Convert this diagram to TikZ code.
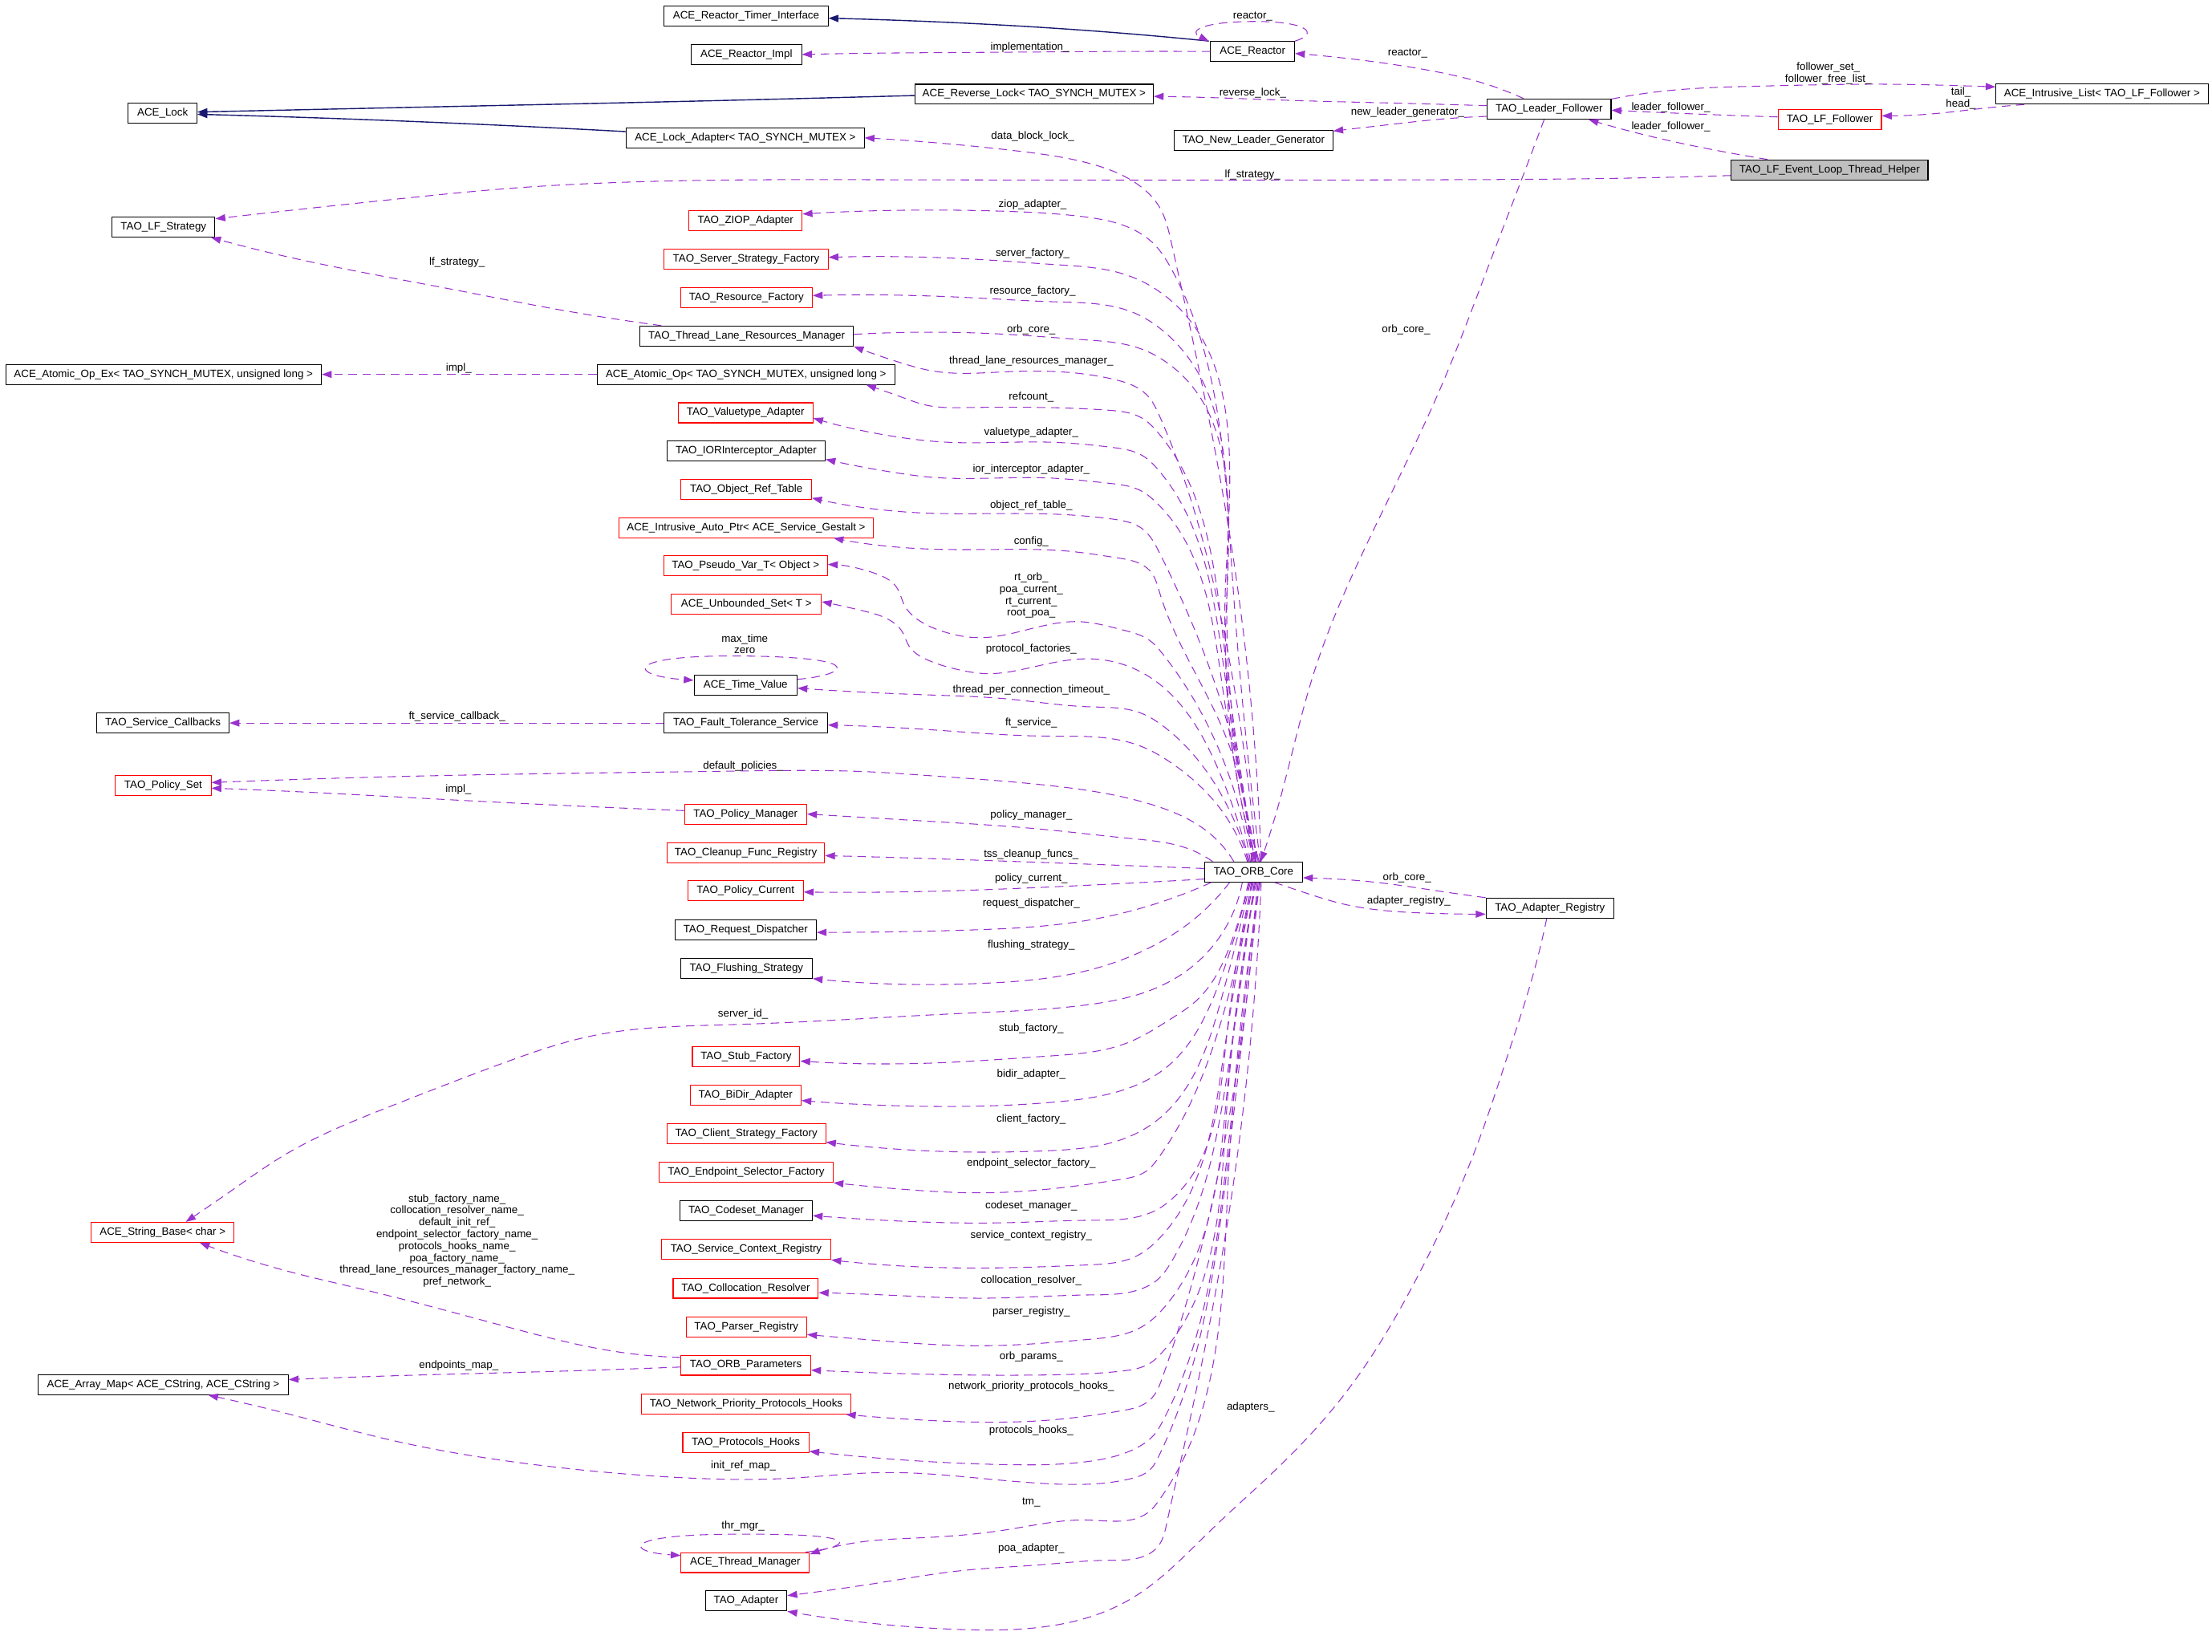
\documentclass[tikz,border=0pt]{standalone}
\usepackage{fontspec}
\setmainfont{Liberation Sans}
\usetikzlibrary{arrows.meta,hobby}
\definecolor{edgepurple}{RGB}{154,50,205}
\definecolor{inhblue}{RGB}{25,25,112}
\definecolor{helpergray}{RGB}{191,191,191}
\newcommand{\lblfont}{\fontsize{7.6}{8.4}\selectfont}
\begin{document}
\begin{tikzpicture}[x=1pt,y=-1pt,
  cls/.style={draw=black, line width=0.6pt, minimum height=14.2pt, inner sep=0pt, font=\lblfont, fill=white},
  rcls/.style={cls, draw=red},
  lbl/.style={font=\lblfont, inner sep=0pt, align=center},
  rel/.style={draw=edgepurple, line width=0.6pt, dash pattern=on 6pt off 4pt, -{Triangle[length=7pt,width=5pt]}, line join=round},
  inh/.style={draw=inhblue, line width=0.8pt, -{Triangle[length=7pt,width=5pt]}}
]
\fill[white] (0,0) rectangle (1568,1171);
\useasboundingbox (0,0) rectangle (1568,1171);

% ---------------- nodes ----------------
\node[cls, minimum width=116.1pt] (rti) at (528.9,11.3) {ACE\_Reactor\_Timer\_Interface};
\node[cls, minimum width=78.2pt] (impl) at (529.1,38.6) {ACE\_Reactor\_Impl};
\node[cls, minimum width=59.5pt] (ar) at (887.9,36.5) {ACE\_Reactor};
\node[cls, minimum width=48.7pt] (lock) at (115.3,80.4) {ACE\_Lock};
\node[cls, minimum width=169pt] (rl) at (733,66.8) {ACE\_Reverse\_Lock< TAO\_SYNCH\_MUTEX >};
\node[cls, minimum width=87.8pt] (lf) at (1098.1,77.3) {TAO\_Leader\_Follower};
\node[cls, minimum width=150.3pt] (il) at (1490,66.7) {ACE\_Intrusive\_List< TAO\_LF\_Follower >};
\node[rcls, minimum width=73.3pt] (lff) at (1297,84.9) {TAO\_LF\_Follower};
\node[cls, minimum width=112.4pt] (nlg) at (888.6,99.5) {TAO\_New\_Leader\_Generator};
\node[cls, minimum width=168.5pt] (lockad) at (528.3,97.7) {ACE\_Lock\_Adapter< TAO\_SYNCH\_MUTEX >};
\node[cls, fill=helpergray, minimum width=139.5pt] (helper) at (1296.9,120.4) {TAO\_LF\_Event\_Loop\_Thread\_Helper};
\node[cls, minimum width=73pt] (lfs) at (115.9,160.9) {TAO\_LF\_Strategy};
\node[rcls, minimum width=80.2pt] (ziop) at (528.5,156.3) {TAO\_ZIOP\_Adapter};
\node[rcls, minimum width=116.1pt] (ssf) at (528.9,183.6) {TAO\_Server\_Strategy\_Factory};
\node[rcls, minimum width=93.4pt] (rf) at (529.1,210.9) {TAO\_Resource\_Factory};
\node[cls, minimum width=151.2pt] (tlrm) at (529.3,238.2) {TAO\_Thread\_Lane\_Resources\_Manager};
\node[cls, minimum width=223.8pt] (atomicex) at (115.9,265.4) {ACE\_Atomic\_Op\_Ex< TAO\_SYNCH\_MUTEX, unsigned long >};
\node[cls, minimum width=211pt] (atomic) at (528.8,265.4) {ACE\_Atomic\_Op< TAO\_SYNCH\_MUTEX, unsigned long >};
\node[rcls, minimum width=95.3pt] (vta) at (528.5,292.6) {TAO\_Valuetype\_Adapter};
\node[cls, minimum width=112.1pt] (ior) at (528.9,319.7) {TAO\_IORInterceptor\_Adapter};
\node[rcls, minimum width=92.5pt] (ort) at (529,346.9) {TAO\_Object\_Ref\_Table};
\node[rcls, minimum width=180.7pt] (ap) at (528.9,374) {ACE\_Intrusive\_Auto\_Ptr< ACE\_Service\_Gestalt >};
\node[rcls, minimum width=116.1pt] (pvt) at (528.5,401.2) {TAO\_Pseudo\_Var\_T< Object >};
\node[rcls, minimum width=106.2pt] (us) at (529.1,428.3) {ACE\_Unbounded\_Set< T >};
\node[cls, minimum width=73pt] (tv) at (528.5,485.5) {ACE\_Time\_Value};
\node[cls, minimum width=93.8pt] (sc) at (115.5,512.5) {TAO\_Service\_Callbacks};
\node[cls, minimum width=115.7pt] (fts) at (528.7,512.5) {TAO\_Fault\_Tolerance\_Service};
\node[rcls, minimum width=67.8pt] (ps) at (115.7,556.7) {TAO\_Policy\_Set};
\node[rcls, minimum width=86.6pt] (pm) at (528.5,577) {TAO\_Policy\_Manager};
\node[rcls, minimum width=111.7pt] (cfr) at (528.7,604.4) {TAO\_Cleanup\_Func\_Registry};
\node[rcls, minimum width=81.8pt] (pc) at (528.5,631.5) {TAO\_Policy\_Current};
\node[cls, minimum width=100.2pt] (rd) at (528.5,659) {TAO\_Request\_Dispatcher};
\node[cls, minimum width=93.4pt] (fs) at (529.1,686.3) {TAO\_Flushing\_Strategy};
\node[rcls, minimum width=76.2pt] (stub) at (528.9,749) {TAO\_Stub\_Factory};
\node[rcls, minimum width=78.6pt] (bidir) at (528.5,776.4) {TAO\_BiDir\_Adapter};
\node[rcls, minimum width=112.5pt] (csf) at (529,803.8) {TAO\_Client\_Strategy\_Factory};
\node[rcls, minimum width=123.3pt] (esf) at (528.9,831) {TAO\_Endpoint\_Selector\_Factory};
\node[cls, minimum width=93.8pt] (cm) at (528.9,858.4) {TAO\_Codeset\_Manager};
\node[rcls, minimum width=120.1pt] (scr) at (528.9,885.7) {TAO\_Service\_Context\_Registry};
\node[rcls, minimum width=102.9pt] (cr) at (528.6,913.1) {TAO\_Collocation\_Resolver};
\node[rcls, minimum width=85.4pt] (pr) at (529.1,940.5) {TAO\_Parser\_Registry};
\node[rcls, minimum width=91.8pt] (op) at (528.7,967.7) {TAO\_ORB\_Parameters};
\node[rcls, minimum width=148.8pt] (np) at (528.9,995.2) {TAO\_Network\_Priority\_Protocols\_Hooks};
\node[rcls, minimum width=89.4pt] (ph) at (528.7,1022.5) {TAO\_Protocols\_Hooks};
\node[rcls, minimum width=91pt] (tm) at (528.3,1107.6) {ACE\_Thread\_Manager};
\node[cls, minimum width=57.8pt] (adapter) at (528.9,1134.8) {TAO\_Adapter};
\node[rcls, minimum width=101.4pt] (sb) at (115.3,873.5) {ACE\_String\_Base< char >};
\node[cls, minimum width=177.2pt] (am) at (115.7,981.5) {ACE\_Array\_Map< ACE\_CString, ACE\_CString >};
\node[cls, minimum width=69.4pt] (orb) at (888.6,618.1) {TAO\_ORB\_Core};
\node[cls, minimum width=90.6pt] (areg) at (1098.7,643.7) {TAO\_Adapter\_Registry};

% ---------------- inheritance ----------------
\draw[inh] ([xshift=-1pt]ar.north west) to[curve through={(786.3,22.8) (677.5,16.1)}] ([yshift=-1.6pt]rti.east);
\draw[inh] ([yshift=-0.9pt]rl.west) to[curve through={(478.8,72) (319,75.5)}] ([yshift=1pt]lock.east);
\draw[inh] ([yshift=4.4pt]lockad.west) to[curve through={(319,87.2)}] ([yshift=-0.6pt]lock.east);

% ---------------- top group relations ----------------
\draw[rel] (ar.west) to[curve through={(822.6,36.4) (713.8,37) (605,37.9)}] (impl.east);
\draw[rel] (ar.north east) .. controls (935,24) and (928,15) .. (888,15.2) .. controls (852,15.5) and (842,22) .. ([xshift=-1pt]ar.north west);
\draw[rel] ([xshift=-18pt]lf.north) to[curve through={(1051,58.8) (1004,48.3) (949.5,40.8)}] ([yshift=-1.4pt]ar.east);
\draw[rel] ([yshift=2.4pt]lf.west) to[curve through={(985.8,73) (913.3,71.1) (859,69.2)}] ([yshift=-1.5pt]rl.east);
\draw[rel] ([yshift=-5.2pt]lf.west) to[curve through={(1022,84.4) (985.8,88.2)}] ([yshift=6.6pt]nlg.east);
\draw[rel] ([yshift=7.1pt]lf.east) to[curve through={(1179.9,64.5) (1249.3,61) (1336,59.7) (1388.2,60.7)}] ([yshift=5.1pt]il.west);
\draw[rel] ([xshift=-55pt]il.south) to[curve through={(1405.5,76.8) (1370.8,80.6)}] ([yshift=2.8pt]lff.east);
\draw[rel] ([yshift=2pt]lff.west) to[curve through={(1197.3,80.6)}] ([yshift=-0.8pt]lf.east);
\draw[rel] ([xshift=-44pt]helper.north) to[curve through={(1214.6,106.2) (1162.5,94.8)}] ([xshift=28pt]lf.south);
\draw[rel] ([yshift=-4pt]helper.west) to[curve through={(1162.5,126.1) (1023.7,127.4) (625.6,127.4) (438.9,129.3) (359,133.7) (279.3,141.3) (199.5,149.8)}] ([yshift=5.8pt]lfs.east);
\draw[rel] ([xshift=-60.5pt]tlrm.north) to[curve through={(399,220) (319,204.8) (239.4,189.6) (179.6,176.3)}] ([xshift=33.7pt]lfs.south);
\draw[rel] ([xshift=-3.5pt]lf.south) to[curve through={(1076.5,132.7) (1054.7,189.6) (1022,273) (975,372.8) (931.5,476.5) (906,571.5)}] ([xshift=5pt]orb.north);
\draw[rel] (atomic.west) -- (atomicex.east);
\draw[rel] (fts.west) -- (sc.east);
\draw[rel] ([yshift=2.4pt]pm.west) to[curve through={(319,566.9) (179.6,559.8)}] ([yshift=-2pt]ps.east);
\draw[rel] ([yshift=5.5pt]op.west) to[curve through={(438.9,958.4) (359,940.4) (259.4,914.5) (199.5,899.9)}] ([xshift=26.3pt]sb.south);
\draw[rel] ([yshift=-1.3pt]op.west) to[curve through={(399,971.9) (279.3,975.2)}] ([yshift=3.6pt]am.east);

% self loops
\draw[rel] ([yshift=4pt]tv.east) .. controls (598,479) and (620,466) .. (527,465) .. controls (440,464) and (445,479) .. ([yshift=3.3pt]tv.west);
\draw[rel] ([xshift=-3pt]tm.north east) .. controls (600,1097) and (620,1087) .. (527,1087.5) .. controls (440,1087) and (442,1100) .. ([yshift=5pt]tm.west);

% ---------------- ORB core upward ----------------
\draw[rel] ([xshift=5.4pt]orb.north) to[curve through={(873.5,390.8) (830,170.6) (822.6,148) (804,129) (771.8,115.7) (721,107) (677,102.4)}] (lockad.east);
\draw[rel] ([xshift=4.7pt]orb.north) to[curve through={(873,400.5) (830,190) (819,174) (804,163) (768,153.6) (713.8,149.8)}] ([yshift=4.6pt]ziop.east);
\draw[rel] ([xshift=4pt]orb.north) to[curve through={(869,407.9) (819,204.8) (793.6,193.4) (750,187.7) (695.6,184)}] ([yshift=1.2pt]ssf.east);
\draw[rel] ([xshift=3.3pt]orb.north) to[curve through={(869.7,422) (822.6,233) (804,221.8) (750,214) (677.5,210.5)}] ([yshift=1.4pt]rf.east);
\draw[rel] ([yshift=1.2pt]tlrm.east) to[curve through={(713.8,237) (768,240.8) (808,247) (822.6,254) (869.2,432.5)}] ([xshift=2pt]orb.north);
\draw[rel] ([xshift=1.9pt]orb.north) to[curve through={(868.6,453) (822,295) (813,280) (790,269) (713.8,263.5) (659,262.6) (641,257.9)}] (tlrm.south east);
\draw[rel] ([xshift=1.2pt]orb.north) to[curve through={(867.8,458.9) (821,306.8) (809.6,296.4) (786,290.8) (742.8,288.9) (684.8,288.9) (655.8,287) (641.3,282.3)}] ([xshift=-20.6pt]atomic.south east);
\draw[rel] ([xshift=0.5pt]orb.north) to[curve through={(867.3,472) (821,333) (809.6,322.8) (789,317.2) (742.8,313.4) (670,313.4) (641.3,310.5)}] ([yshift=-3.8pt]vta.east);
\draw[rel] ([xshift=-0.2pt]orb.north) to[curve through={(866,483) (818.3,354.9) (809.6,348.3) (786.4,342.6) (742.8,338.8) (655.8,337.9) (641,336)}] ([yshift=-5.9pt]ior.east);
\draw[rel] ([xshift=-0.9pt]orb.north) to[curve through={(866.7,501.5) (822,392) (809.6,374.7) (789,368) (742.8,364.3) (650,363.4)}] ([yshift=-6.1pt]ort.east);
\draw[rel] ([xshift=-1.6pt]orb.north) to[curve through={(866.2,515.5) (822,420) (815.4,404.9) (792,395.4) (757.3,390.7) (713.8,389.4) (650,388.8)}] ([xshift=-28.7pt]ap.south east);
\draw[rel] ([xshift=-2.3pt]orb.north) to[curve through={(866.4,537) (824,463.3) (815,454) (795,446.3) (766,440.7) (728.3,446.3) (693.5,452) (670.3,448.2) (650,438.8) (641.3,429.4) (635.5,416.2) (621,406.7)}] ([yshift=1.1pt]pvt.east);
\draw[rel] ([xshift=-3pt]orb.north) to[curve through={(864.1,546.6) (818.3,482.2) (800.9,472.7) (771.8,467) (728.3,473.7) (699.3,477.5) (679,474.6) (655.8,467) (644.2,457.7) (639.8,448.2) (632.5,440.7) (612.2,433.1)}] ([yshift=1.8pt]us.east);
\draw[rel] ([xshift=-3.7pt]orb.north) to[curve through={(865.4,562.7) (824,514.3) (809.6,505.8) (771.8,501) (713.8,495.4) (655.8,492.5)}] ([yshift=-2.3pt]tv.east);
\draw[rel] ([xshift=-4.4pt]orb.north) to[curve through={(866.9,575.8) (830,540.6) (809.6,529.3) (742.8,521.8) (655.8,517)}] ([yshift=-1.4pt]fts.east);

% near ORB, left side
\draw[rel] ([xshift=-14pt]orb.north) to[curve through={(859,592) (815.4,570) (742.8,556.7) (655.8,549.6) (618.5,547.2) (518.7,546.6) (319,549.6)}] ([yshift=2pt]ps.east);
\draw[rel] ([xshift=6pt]orb.north west) to[curve through={(844.4,602.4) (800.9,594.3) (742.8,588.2) (655.8,582)}] (pm.east);
\draw[rel] ([yshift=2.5pt]orb.west) to[curve through={(742.8,611.5) (655.8,608.5)}] ([yshift=-2.1pt]cfr.east);
\draw[rel] ([yshift=-5pt]orb.west) to[curve through={(742.8,628.8) (655.8,631.9)}] ([yshift=-0.8pt]pc.east);
\draw[rel] ([xshift=5pt]orb.south west) to[curve through={(830,637) (771.8,652.2) (684.8,659.3)}] ([yshift=-1.9pt]rd.east);
\draw[rel] ([xshift=-17pt]orb.south) to[curve through={(844.4,653.2) (815.4,671.5) (771.8,687.7) (699.3,696.9) (655.8,697.9)}] (fs.south east);
\draw[rel] ([xshift=-8pt]orb.south) to[curve through={(844.4,685.7) (815.4,702) (771.8,712.1) (684.8,718.2) (568.7,724.3) (518.7,726.3) (419,734.4) (359,752.7) (279.3,783.2) (199.5,820) (167.6,841.5)}] ([xshift=16.4pt]sb.north);

% ---------------- ORB core downward ----------------
\draw[rel] ([xshift=-3.7pt]orb.south) to[curve through={(872.9,667.6) (847.3,710) (830,722.2) (800.9,738.5) (742.8,748.6) (655.8,753.7)}] ([yshift=-3.1pt]stub.east);
\draw[rel] ([xshift=-3pt]orb.south) to[curve through={(865.9,692) (824,758.8) (800.9,771) (748.6,781.1) (655.8,784.2)}] ([yshift=-3.7pt]bidir.east);
\draw[rel] ([xshift=-2.3pt]orb.south) to[curve through={(865.5,709) (821.2,793.3) (800.9,805.5) (742.8,815.7) (655.8,815.7)}] ([yshift=-5.8pt]csf.east);
\draw[rel] ([xshift=-1.6pt]orb.south) to[curve through={(865.9,723) (821,821) (812.5,830.2) (795,835.9) (742,843) (699,845.5) (640,843)}] (esf.south east);
\draw[rel] ([xshift=-0.9pt]orb.south) to[curve through={(869.2,737.8) (830,850.5) (821,857) (809.6,861.7) (771.8,865) (713.8,866.7) (626.7,865)}] ([yshift=-3.3pt]cm.east);
\draw[rel] ([xshift=-0.2pt]orb.south) to[curve through={(866.8,751.8) (821,878.6) (806.7,889.8) (771.8,896.6) (699.3,898.8) (626.7,896.6)}] (scr.south east);
\draw[rel] ([xshift=0.5pt]orb.south) to[curve through={(870.2,760) (830,895) (821,906.7) (809.6,913.4) (771.8,917.9) (699.3,920.2) (626.7,917.9)}] ([yshift=-3.2pt]cr.east);
\draw[rel] ([xshift=1.2pt]orb.south) to[curve through={(869.7,774.9) (827,924.7) (821,931.4) (809.6,940.4) (771.8,949.4) (699.3,953.9) (612.2,949.4)}] ([yshift=-5.5pt]pr.east);
\draw[rel] ([xshift=1.9pt]orb.south) to[curve through={(869.2,791.7) (824,958.4) (815.4,966.2) (795,971.9) (742.8,974.6) (655.8,974.1)}] ([yshift=-3.5pt]op.east);
\draw[rel] ([xshift=2.6pt]orb.south) to[curve through={(869.7,800.7) (824,976.4) (815.4,992.1) (795,1000) (742.8,1006.7) (655.8,1006.7)}] ([xshift=-4pt]np.south east);
\draw[rel] ([xshift=3.3pt]orb.south) to[curve through={(870.2,816.4) (824,1007.8) (818.3,1016.8) (806.7,1025.8) (771.8,1035.9) (713.8,1038.2) (655.8,1035.9)}] ([yshift=-6.2pt]ph.east);
\draw[rel] ([xshift=4pt]orb.south) to[curve through={(869.8,828.8) (821.2,1032.6) (815.4,1041.6) (800.9,1048.3) (742.8,1051.7) (699.3,1048.3) (626.7,1043.8) (558.6,1047.9) (478.8,1047.2) (379,1038.2) (279.3,1021.3) (199.5,1001)}] ([xshift=31.9pt]am.south);
\draw[rel] ([xshift=4.7pt]orb.south) to[curve through={(870.2,844.5) (821.2,1064) (815.4,1070.8) (771.8,1077.5) (713.8,1084.3) (655.8,1089.9) (603.5,1094)}] ([yshift=-1.5pt]tm.north east);
\draw[rel] ([xshift=5.4pt]orb.south) to[curve through={(871.6,857) (836,1040) (827,1080) (821,1096) (810,1103.5) (785,1106) (740,1109) (680,1113.5) (626.7,1121.4)}] ([yshift=3.8pt]adapter.east);

% ---------------- adapter registry ----------------
\draw[rel] (areg.north west) to[curve through={(1017.7,631.3) (977,625.6) (939,622.7)}] ([yshift=-4.1pt]orb.east);
\draw[rel] ([xshift=14.8pt]orb.south) to[curve through={(926.3,633.2) (951.7,640.7) (982,645.5) (1015,647.4)}] ([yshift=-4.3pt]areg.west);
\draw[rel] ([xshift=-2.3pt]areg.south) to[curve through={(1083.7,701.4) (1072,738) (1048.5,807.8) (1006.5,901.7) (952,989.7) (902,1044) (859,1084) (801,1133.7) (679,1155) (612,1150)}] (adapter.south east);

% ---------------- labels ----------------
\node[lbl] (l01) at (888,11.4) {reactor\_};
\node[lbl] (l02) at (730,33.4) {implementation\_};
\node[lbl] (l03) at (997.8,37.9) {reactor\_};
\node[lbl] (l04) at (888,65.8) {reverse\_lock\_};
\node[lbl] (l05) at (997.8,79.6) {new\_leader\_generator\_};
\node[lbl] (l06) at (1296,52.2) {follower\_set\_\\follower\_free\_list\_};
\node[lbl] (l07) at (1390,69.5) {tail\_\\head\_};
\node[lbl] (l08) at (1184.4,76.2) {leader\_follower\_};
\node[lbl] (l09) at (1184.4,89.7) {leader\_follower\_};
\node[lbl] (l10) at (887.9,124.2) {lf\_strategy\_};
\node[lbl] (l11) at (324,185.8) {lf\_strategy\_};
\node[lbl] (l12) at (732,96.7) {data\_block\_lock\_};
\node[lbl] (l13) at (732,145) {ziop\_adapter\_};
\node[lbl] (l14) at (732,179.7) {server\_factory\_};
\node[lbl] (l15) at (732,206.7) {resource\_factory\_};
\node[lbl] (l16) at (731,233.8) {orb\_core\_};
\node[lbl] (l17) at (996.7,233.8) {orb\_core\_};
\node[lbl] (l18) at (731,256) {thread\_lane\_resources\_manager\_};
\node[lbl] (l19) at (325.2,261) {impl\_};
\node[lbl] (l20) at (731,281.3) {refcount\_};
\node[lbl] (l21) at (731,306.8) {valuetype\_adapter\_};
\node[lbl] (l22) at (731,332.6) {ior\_interceptor\_adapter\_};
\node[lbl] (l23) at (731,358.1) {object\_ref\_table\_};
\node[lbl] (l24) at (731,383.7) {config\_};
\node[lbl] (l25) at (731,422.2) {rt\_orb\_\\poa\_current\_\\rt\_current\_\\root\_poa\_};
\node[lbl] (l26) at (731,460) {protocol\_factories\_};
\node[lbl] (l27) at (527.9,456.5) {max\_time\\zero};
\node[lbl] (l28) at (731,489.4) {thread\_per\_connection\_timeout\_};
\node[lbl] (l29) at (324,508) {ft\_service\_callback\_};
\node[lbl] (l30) at (731,512.4) {ft\_service\_};
\node[lbl] (l31) at (526.7,542.9) {default\_policies\_};
\node[lbl] (l32) at (325,559.8) {impl\_};
\node[lbl] (l33) at (731,577.6) {policy\_manager\_};
\node[lbl] (l34) at (731,605.9) {tss\_cleanup\_funcs\_};
\node[lbl] (l35) at (731,622.7) {policy\_current\_};
\node[lbl] (l36) at (731,640.6) {request\_dispatcher\_};
\node[lbl] (l37) at (997.4,622.2) {orb\_core\_};
\node[lbl] (l38) at (998.6,638.5) {adapter\_registry\_};
\node[lbl] (l39) at (731,669.8) {flushing\_strategy\_};
\node[lbl] (l40) at (526.7,718.6) {server\_id\_};
\node[lbl] (l41) at (731,729.4) {stub\_factory\_};
\node[lbl] (l42) at (731,761.8) {bidir\_adapter\_};
\node[lbl] (l43) at (731,793.3) {client\_factory\_};
\node[lbl] (l44) at (731,824.6) {endpoint\_selector\_factory\_};
\node[lbl] (l45) at (731,855) {codeset\_manager\_};
\node[lbl] (l46) at (731,875.6) {service\_context\_registry\_};
\node[lbl] (l47) at (731,907.8) {collocation\_resolver\_};
\node[lbl] (l48) at (731,929.8) {parser\_registry\_};
\node[lbl] (l49) at (731,962) {orb\_params\_};
\node[lbl] (l50) at (731,982.7) {network\_priority\_protocols\_hooks\_};
\node[lbl] (l51) at (731,1014) {protocols\_hooks\_};
\node[lbl] (l52) at (527,1039) {init\_ref\_map\_};
\node[lbl] (l53) at (731,1064.7) {tm\_};
\node[lbl] (l54) at (526.7,1081.6) {thr\_mgr\_};
\node[lbl] (l55) at (731,1097.8) {poa\_adapter\_};
\node[lbl] (l56) at (886.5,997.7) {adapters\_};
\node[lbl] (l57) at (325.2,967.8) {endpoints\_map\_};
\node[lbl] (l58) at (324,879.5) {stub\_factory\_name\_\\collocation\_resolver\_name\_\\default\_init\_ref\_\\endpoint\_selector\_factory\_name\_\\protocols\_hooks\_name\_\\poa\_factory\_name\_\\thread\_lane\_resources\_manager\_factory\_name\_\\pref\_network\_};

\end{tikzpicture}
\end{document}
